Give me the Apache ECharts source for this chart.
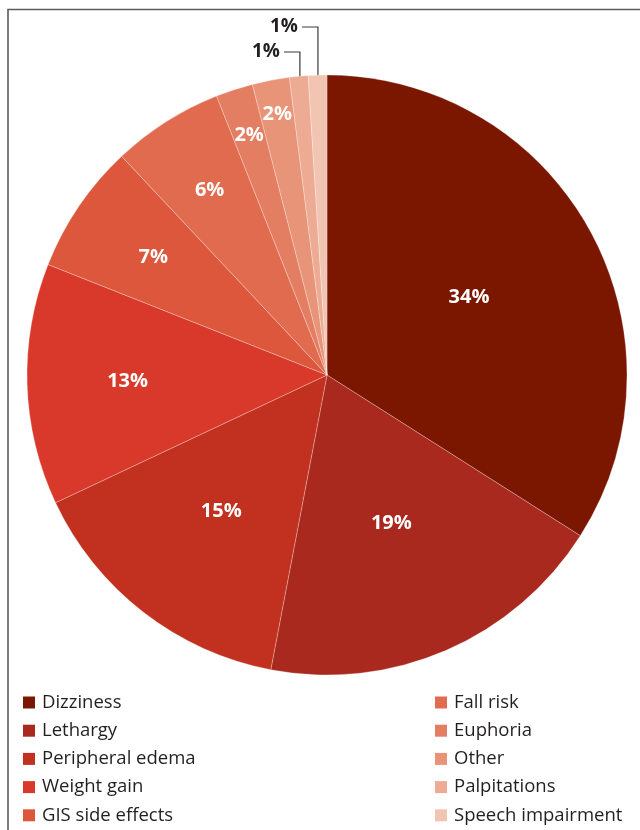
<!DOCTYPE html>
<html>
<head>
<meta charset="utf-8">
<title>Adverse effects</title>
<script src="https://cdn.jsdelivr.net/npm/echarts@6/dist/echarts.min.js"></script>
<style>
  html, body { margin: 0; padding: 0; background: #ffffff; }
  #chart { width: 640px; height: 830px; }
</style>
</head>
<body>
<div id="chart"></div>
<script>
// Reported adverse effects, share of all reports (%)
const categories = [
  'Dizziness', 'Lethargy', 'Peripheral edema', 'Weight gain', 'GIS side effects',
  'Fall risk', 'Euphoria', 'Other', 'Palpitations', 'Speech impairment'
];
const shares = [34, 19, 15, 13, 7, 6, 2, 2, 1, 1];

// Slice palette, darkest for the largest share
const sliceColors = [
  '#7b1600', '#a9291e', '#c2311f', '#d9392a', '#dc573c',
  '#e06b4f', '#e47e62', '#e89479', '#eeab93', '#f2c4b2'
];

// Geometry of the pie
const CENTER = [327, 375];
const RADIUS = 300;
// Radial placement of the inside labels, as a fraction of the radius
const labelRadius = [0.54, 0.54, 0.575, 0.665, 0.70, 0.73, 0.84, 0.885, 0, 0];
// Height of the callout labels above the rim for the tiny slices
const calloutRise = { 8: 23, 9: 48 };

const INK = '#231f20';
const FONT = '"Open Sans", "Noto Sans", sans-serif';

const total = shares.reduce((a, b) => a + b, 0);
const midAngles = [];
let acc = 0;
shares.forEach(v => {
  midAngles.push(((acc + v / 2) / total) * Math.PI * 2);
  acc += v;
});

const pieData = categories.map((name, i) => {
  const item = { name: name, value: shares[i], itemStyle: { color: sliceColors[i] } };
  if (calloutRise[i] != null) {
    item.label = { position: 'outside', color: INK, fontSize: 19 };
    item.labelLine = { show: true, lineStyle: { color: '#3a3a3a', width: 1.2 } };
  }
  return item;
});

const legendBase = {
  orient: 'vertical',
  top: 693,
  padding: 0,
  itemWidth: 12, itemHeight: 12, itemGap: 9.2,
  icon: 'rect',
  selectedMode: false,
  itemStyle: { borderWidth: 0 },
  textStyle: { fontFamily: FONT, fontSize: 18.5, color: INK, lineHeight: 18, padding: [0, 0, 0, 2] }
};

const chart = echarts.init(document.getElementById('chart'), null, { renderer: 'canvas' });

chart.setOption({
  animation: false,
  backgroundColor: '#ffffff',
  graphic: [{
    type: 'rect',
    shape: { x: 8, y: 9.5, width: 700, height: 900 },
    style: { fill: 'none', stroke: '#5c5c5c', lineWidth: 1.6 },
    silent: true
  }],
  legend: [
    Object.assign({}, legendBase, { data: categories.slice(0, 5), left: 23 }),
    Object.assign({}, legendBase, { data: categories.slice(5), left: 435 })
  ],
  series: [{
    type: 'pie',
    center: CENTER,
    radius: RADIUS,
    startAngle: 90,
    clockwise: true,
    avoidLabelOverlap: false,
    silent: true,
    itemStyle: { borderColor: 'rgba(255,255,255,0.45)', borderWidth: 0.6 },
    label: {
      show: true,
      position: 'inside',
      formatter: '{c}%',
      color: '#ffffff',
      fontFamily: FONT,
      fontWeight: 'bold',
      fontSize: 20
    },
    labelLine: { show: false },
    labelLayout: function (params) {
      const i = params.dataIndex;
      const a = midAngles[i];
      if (calloutRise[i] != null) {
        const r0 = RADIUS * 0.96;
        const x0 = CENTER[0] + r0 * Math.sin(a);
        const y0 = CENTER[1] - r0 * Math.cos(a);
        const yTop = CENTER[1] - RADIUS - calloutRise[i];
        const xEnd = x0 - 16;
        return {
          x: xEnd - 4,
          y: yTop,
          align: 'right',
          verticalAlign: 'middle',
          labelLinePoints: [[x0, y0], [x0, yTop], [xEnd, yTop]]
        };
      }
      const r = RADIUS * labelRadius[i];
      return {
        x: CENTER[0] + r * Math.sin(a),
        y: CENTER[1] - r * Math.cos(a),
        align: 'center',
        verticalAlign: 'middle'
      };
    },
    data: pieData
  }]
});
</script>
</body>
</html>
